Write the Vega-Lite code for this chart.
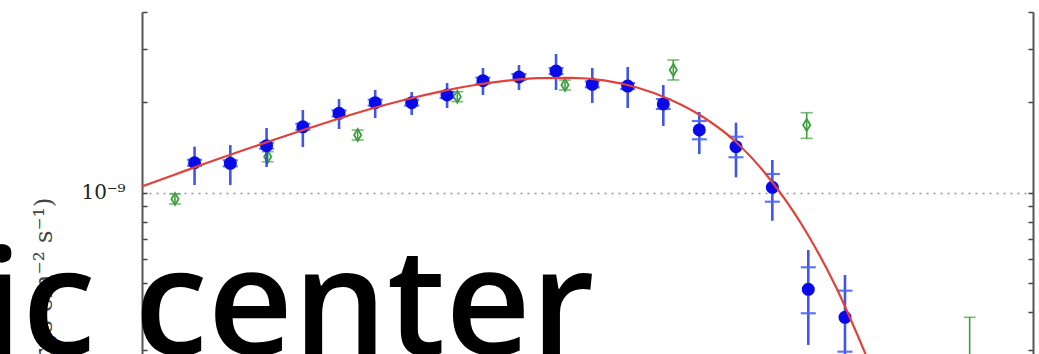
{
  "$schema": "https://vega.github.io/schema/vega-lite/v6.json",
  "width": 891,
  "height": 342,
  "autosize": "none",
  "padding": {"left": 142, "top": 12, "right": 6, "bottom": 0},
  "background": "white",
  "config": {"view": {"stroke": null}, "font": "DejaVu Serif"},
  "title": {
    "text": "ic center",
    "orient": "top",
    "anchor": "start",
    "frame": "group",
    "font": "Open Sans",
    "fontSize": 148,
    "fontWeight": 600,
    "color": "#000000",
    "baseline": "alphabetic",
    "offset": 0,
    "dx": -161,
    "dy": 501
  },
  "datasets": {
    "fit": [
      {"E": 100, "F": 1.0485e-9},
      {"E": 123.6, "F": 1.1498e-9},
      {"E": 152.6, "F": 1.2603e-9},
      {"E": 188.5, "F": 1.3769e-9},
      {"E": 232.8, "F": 1.5002e-9},
      {"E": 287.6, "F": 1.6325e-9},
      {"E": 355.2, "F": 1.7709e-9},
      {"E": 438.7, "F": 1.9103e-9},
      {"E": 541.9, "F": 2.0441e-9},
      {"E": 669.4, "F": 2.168e-9},
      {"E": 826.9, "F": 2.2757e-9},
      {"E": 1021.4, "F": 2.3574e-9},
      {"E": 1261.7, "F": 2.4068e-9},
      {"E": 1558.4, "F": 2.4143e-9},
      {"E": 1925, "F": 2.3684e-9},
      {"E": 2378, "F": 2.241e-9},
      {"E": 2937, "F": 2.0441e-9},
      {"E": 3628, "F": 1.7872e-9},
      {"E": 4482, "F": 1.475e-9},
      {"E": 5536, "F": 1.1192e-9},
      {"E": 6838, "F": 7.804e-10},
      {"E": 8446, "F": 4.924e-10},
      {"E": 10432, "F": 2.771e-10}
    ],
    "lat": [
      {"E": 140, "F": 1.258e-9, "lo": 1.06e-9, "hi": 1.423e-9, "clo": 1.229e-9, "chi": 1.287e-9},
      {"E": 176, "F": 1.253e-9, "lo": 1.06e-9, "hi": 1.441e-9, "clo": 1.224e-9, "chi": 1.282e-9},
      {"E": 222, "F": 1.434e-9, "lo": 1.218e-9, "hi": 1.642e-9, "clo": 1.401e-9, "chi": 1.467e-9},
      {"E": 280, "F": 1.658e-9, "lo": 1.419e-9, "hi": 1.886e-9, "clo": 1.62e-9, "chi": 1.697e-9},
      {"E": 353, "F": 1.838e-9, "lo": 1.63e-9, "hi": 2.051e-9, "clo": 1.796e-9, "chi": 1.881e-9},
      {"E": 445, "F": 1.995e-9, "lo": 1.773e-9, "hi": 2.199e-9, "clo": 1.95e-9, "chi": 2.041e-9},
      {"E": 562, "F": 1.995e-9, "lo": 1.815e-9, "hi": 2.165e-9, "clo": 1.95e-9, "chi": 2.041e-9},
      {"E": 705, "F": 2.116e-9, "lo": 1.915e-9, "hi": 2.32e-9, "clo": 2.068e-9, "chi": 2.165e-9},
      {"E": 887, "F": 2.361e-9, "lo": 2.116e-9, "hi": 2.603e-9, "clo": 2.307e-9, "chi": 2.416e-9},
      {"E": 1117, "F": 2.429e-9, "lo": 2.199e-9, "hi": 2.663e-9, "clo": 2.374e-9, "chi": 2.486e-9},
      {"E": 1416, "F": 2.543e-9, "lo": 2.199e-9, "hi": 2.899e-9, "clo": 2.485e-9, "chi": 2.602e-9},
      {"E": 1786, "F": 2.296e-9, "lo": 1.99e-9, "hi": 2.603e-9, "clo": 2.244e-9, "chi": 2.349e-9},
      {"E": 2240, "F": 2.266e-9, "lo": 1.915e-9, "hi": 2.623e-9, "clo": 2.214e-9, "chi": 2.319e-9},
      {"E": 2814, "F": 1.975e-9, "lo": 1.668e-9, "hi": 2.284e-9, "clo": 1.901e-9, "chi": 2.052e-9},
      {"E": 3543, "F": 1.618e-9, "lo": 1.345e-9, "hi": 1.857e-9, "clo": 1.506e-9, "chi": 1.733e-9},
      {"E": 4481, "F": 1.423e-9, "lo": 1.125e-9, "hi": 1.711e-9, "clo": 1.312e-9, "chi": 1.536e-9},
      {"E": 5655, "F": 1.042e-9, "lo": 8.06e-10, "hi": 1.285e-9, "clo": 9.33e-10, "chi": 1.154e-9},
      {"E": 7119, "F": 4.765e-10, "lo": 3.108e-10, "hi": 6.44e-10, "clo": 3.964e-10, "chi": 5.641e-10},
      {"E": 9003, "F": 3.843e-10, "lo": 2.665e-10, "hi": 5.318e-10, "clo": 2.952e-10, "chi": 4.714e-10}
    ],
    "other": [
      {"E": 123.5, "F": 9.53e-10, "lo": 9.17e-10, "hi": 9.9e-10},
      {"E": 223.6, "F": 1.318e-9, "lo": 1.268e-9, "hi": 1.369e-9},
      {"E": 397.8, "F": 1.556e-9, "lo": 1.498e-9, "hi": 1.617e-9},
      {"E": 752.6, "F": 2.089e-9, "lo": 2.011e-9, "hi": 2.17e-9},
      {"E": 1500, "F": 2.284e-9, "lo": 2.198e-9, "hi": 2.373e-9},
      {"E": 3000, "F": 2.563e-9, "lo": 2.374e-9, "hi": 2.768e-9},
      {"E": 7046, "F": 1.681e-9, "lo": 1.517e-9, "hi": 1.847e-9},
      {"E": 20000, "F": 2.2e-10, "lo": 1.5e-10, "hi": 3.843e-10}
    ]
  },
  "resolve": {"axis": {"y": "independent"}},
  "layer": [
    {
      "data": {"name": "other"},
      "mark": {"type": "rule", "color": "#3f9f3f", "strokeWidth": 1.6, "clip": true},
      "encoding": {
        "x": {
          "field": "E", "type": "quantitative",
          "scale": {"type": "log", "domain": [100, 30000], "nice": false},
          "axis": {
            "orient": "top",
            "values": [100, 200, 300, 400, 500, 600, 700, 800, 900, 1000, 2000, 3000, 4000, 5000, 6000, 7000, 8000, 9000, 10000, 20000, 30000],
            "labels": false,
            "title": null,
            "tickSize": -4,
            "tickColor": "#444444",
            "tickWidth": 1.5,
            "domainColor": "#555555",
            "domainWidth": 2,
            "grid": true,
            "gridColor": "#888888",
            "gridWidth": 1.5,
            "gridDash": [2, 5],
            "gridOpacity": {"condition": {"test": "abs(log(datum.value)/LN10 - round(log(datum.value)/LN10)) < 0.001 && datum.value > 100", "value": 0.9}, "value": 0}
          }
        },
        "y": {
          "field": "lo", "type": "quantitative",
          "scale": {"type": "log", "domain": [2.9e-10, 4e-9], "nice": false},
          "axis": {
            "orient": "left",
            "values": [3e-10, 4e-10, 5e-10, 6e-10, 7e-10, 8e-10, 9e-10, 1e-9, 2e-9, 3e-9, 4e-9],
            "labelExpr": "abs(datum.value - 1e-9) < 1e-12 ? '10⁻⁹' : ''",
            "labelFont": "DejaVu Serif",
            "labelFontSize": 20,
            "labelColor": "#222222",
            "labelPadding": 22,
            "labelOverlap": false,
            "labelFlush": false,
            "labelBound": false,
            "tickSize": -5,
            "tickColor": "#444444",
            "tickWidth": 1.5,
            "domainColor": "#555555",
            "domainWidth": 2,
            "grid": true,
            "gridColor": "#888888",
            "gridWidth": 1.5,
            "gridDash": [2, 5],
            "gridOpacity": {"condition": {"test": "abs(datum.value - 1e-9) < 1e-12", "value": 0.9}, "value": 0},
            "title": "E² dN/dE (ergs cm⁻² s⁻¹)",
            "titleFont": "DejaVu Serif",
            "titleFontSize": 25,
            "titleFontWeight": "normal",
            "titleColor": "#444444",
            "titleAngle": -90,
            "titleAlign": "right",
            "titleBaseline": "alphabetic",
            "titleX": -91,
            "titleY": 185
          }
        },
        "y2": {"field": "hi"}
      }
    },
    {
      "data": {"name": "other"},
      "mark": {"type": "tick", "orient": "horizontal", "color": "#3f9f3f", "size": 12, "thickness": 1.6, "clip": true},
      "encoding": {
        "x": {"field": "E", "type": "quantitative", "axis": null},
        "y": {"field": "lo", "type": "quantitative", "axis": null}
      }
    },
    {
      "data": {"name": "other"},
      "mark": {"type": "tick", "orient": "horizontal", "color": "#3f9f3f", "size": 12, "thickness": 1.6, "clip": true},
      "encoding": {
        "x": {"field": "E", "type": "quantitative", "axis": null},
        "y": {"field": "hi", "type": "quantitative", "axis": null}
      }
    },
    {
      "data": {"name": "other"},
      "mark": {"type": "point", "shape": "M0,-1L0.6,0L0,1L-0.6,0Z", "size": 144, "filled": false, "stroke": "#3f9f3f", "strokeWidth": 1.8, "opacity": 1, "clip": true},
      "encoding": {
        "x": {"field": "E", "type": "quantitative", "axis": null},
        "y": {"field": "F", "type": "quantitative", "axis": null}
      }
    },
    {
      "data": {"name": "lat"},
      "mark": {"type": "rule", "color": "#2a44e6", "strokeWidth": 2.6, "opacity": 0.9, "clip": true},
      "encoding": {
        "x": {"field": "E", "type": "quantitative", "axis": null},
        "y": {"field": "lo", "type": "quantitative", "axis": null},
        "y2": {"field": "hi"}
      }
    },
    {
      "data": {"name": "lat"},
      "mark": {"type": "tick", "orient": "horizontal", "color": "#4d68f0", "size": 15, "thickness": 2.2, "opacity": 0.9, "clip": true},
      "encoding": {
        "x": {"field": "E", "type": "quantitative", "axis": null},
        "y": {"field": "clo", "type": "quantitative", "axis": null}
      }
    },
    {
      "data": {"name": "lat"},
      "mark": {"type": "tick", "orient": "horizontal", "color": "#4d68f0", "size": 15, "thickness": 2.2, "opacity": 0.9, "clip": true},
      "encoding": {
        "x": {"field": "E", "type": "quantitative", "axis": null},
        "y": {"field": "chi", "type": "quantitative", "axis": null}
      }
    },
    {
      "data": {"name": "lat"},
      "mark": {"type": "point", "shape": "circle", "size": 170, "filled": true, "color": "#0a0ae8", "opacity": 1, "clip": true},
      "encoding": {
        "x": {"field": "E", "type": "quantitative", "axis": null},
        "y": {"field": "F", "type": "quantitative", "axis": null}
      }
    },
    {
      "data": {"name": "fit"},
      "mark": {"type": "line", "color": "#e2413a", "strokeWidth": 2.2, "interpolate": "monotone", "clip": true},
      "encoding": {
        "x": {"field": "E", "type": "quantitative", "axis": null},
        "y": {
          "field": "F", "type": "quantitative",
          "axis": {
            "orient": "right",
            "values": [3e-10, 4e-10, 5e-10, 6e-10, 7e-10, 8e-10, 9e-10, 1e-9, 2e-9, 3e-9, 4e-9],
            "labels": false,
            "title": null,
            "grid": false,
            "tickSize": -5,
            "tickColor": "#444444",
            "tickWidth": 1.5,
            "domainColor": "#555555",
            "domainWidth": 2
          }
        }
      }
    }
  ]
}
